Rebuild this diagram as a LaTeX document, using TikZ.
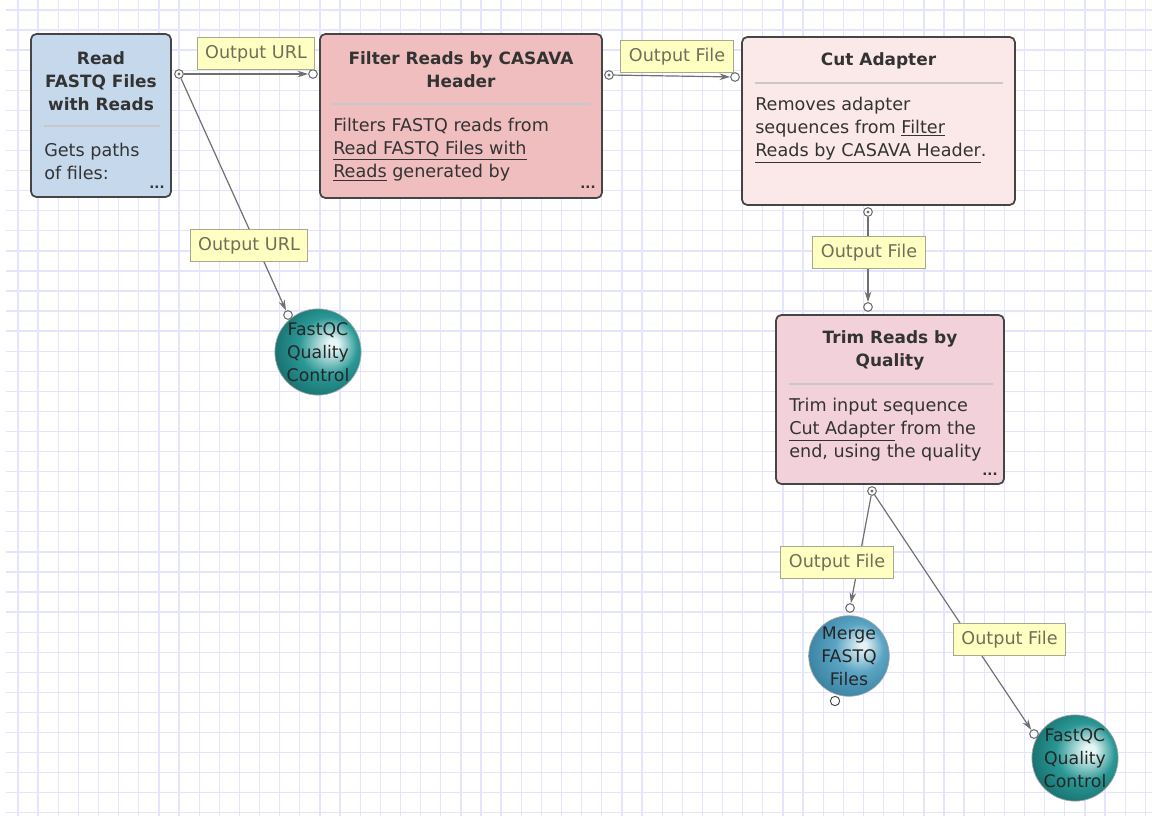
\documentclass[tikz,border=0pt]{standalone}
\usepackage{fontspec}
\setmainfont{DejaVu Sans}
\usetikzlibrary{arrows.meta,shadings}
\definecolor{gridc}{HTML}{E4E4FD}
\definecolor{boxline}{HTML}{454545}
\definecolor{readfill}{HTML}{C6D9EC}
\definecolor{filterfill}{HTML}{F0BEBE}
\definecolor{cutfill}{HTML}{FBE9E9}
\definecolor{trimfill}{HTML}{F2D1DA}
\definecolor{sepc}{HTML}{C8C8C8}
\definecolor{txt}{HTML}{333333}
\definecolor{lblfill}{HTML}{FFFFC2}
\definecolor{lblline}{HTML}{A8A890}
\definecolor{lbltxt}{HTML}{6E6E5A}
\definecolor{edgec}{HTML}{707070}
\definecolor{teal1}{HTML}{2A9896}
\definecolor{tealdk}{HTML}{17706E}
\definecolor{tealhi}{HTML}{E6F6F6}
\definecolor{blue1}{HTML}{5BA4C4}
\definecolor{bluedk}{HTML}{3A83A3}
\definecolor{bluehi}{HTML}{E4F1F6}
\pgfdeclareradialshading{tealball}{\pgfpoint{9bp}{5bp}}{color(0bp)=(tealhi); color(3bp)=(tealhi); color(17bp)=(teal1); color(30bp)=(tealdk); color(50bp)=(tealdk)}
\pgfdeclareradialshading{blueball}{\pgfpoint{9bp}{7bp}}{color(0bp)=(bluehi); color(2bp)=(bluehi); color(15bp)=(blue1); color(30bp)=(bluedk); color(50bp)=(bluedk)}
\tikzset{
  stepbox/.style={draw=boxline, line width=1.3pt, rounded corners=4pt, inner sep=0pt},
  title/.style={font=\fontsize{12.7}{17.25}\selectfont\bfseries, text=txt, align=center, inner sep=0pt},
  body/.style={font=\fontsize{13.2}{17.25}\selectfont, text=txt, align=left, inner sep=0pt, anchor=west},
  dots/.style={font=\fontsize{10}{12}\selectfont\bfseries, text=txt, inner sep=0pt},
  sep/.style={draw=sepc, line width=0.8pt},
  lbl/.style={draw=lblline, fill=lblfill, line width=0.8pt, text=lbltxt, font=\fontsize{13.2}{15}\selectfont, inner xsep=6pt, minimum height=24pt},
  outport/.style={circle, draw=edgec, fill=white, line width=0.8pt, minimum size=6.5pt, inner sep=0pt,
     path picture={\fill[edgec] (path picture bounding box.center) circle (1.3pt);}},
  inport/.style={circle, draw=edgec, line width=0.8pt, minimum size=6.5pt, inner sep=0pt},
  openport/.style={circle, draw=boxline, fill=white, line width=0.7pt, minimum size=7pt, inner sep=0pt},
  conn/.style={draw=edgec, line width=0.9pt, -{Stealth[length=8pt, width=5pt]}},
  ball/.style={circle, minimum size=60pt, inner sep=0pt, draw=gray!70, line width=0.5pt,
     font=\fontsize{13}{17.25}\selectfont, text=black!85, align=center},
}
\begin{document}
\begin{tikzpicture}[x=0.75pt,y=-0.75pt]
\useasboundingbox (0,0) rectangle (1152,816);
\fill[white] (0,0) rectangle (1152,816);
\foreach \i in {0,...,56} \draw[gridc, line width=1pt] ({18+20.13*\i},0) -- ({18+20.13*\i},816);
\foreach \j in {0,...,40} \draw[gridc, line width=1pt] (6,{10+20.07*\j}) -- (1152,{10+20.07*\j});

% boxes
\node[stepbox, fill=readfill, minimum width=105pt, minimum height=122.25pt] (read) at (101,115.5) {};
\node[stepbox, fill=filterfill, minimum width=211.5pt, minimum height=123pt] (filter) at (461,116) {};
\node[stepbox, fill=cutfill, minimum width=204.75pt, minimum height=126pt] (cut) at (878.5,121) {};
\node[stepbox, fill=trimfill, minimum width=171pt, minimum height=126.75pt] (trim) at (890,399.5) {};

% titles
\node[title] (readT) at (101,81) {Read\\FASTQ Files\\with Reads};
\node[title] (filterT) at (461,69.5) {Filter Reads by CASAVA\\Header};
\node[title] (cutT) at (878.5,61) {Cut Adapter};
\node[title] (trimT) at (890,350.5) {Trim Reads by\\Quality};

% separators
\draw[sep] (44,126) -- (160,126);
\draw[sep] (332,104) -- (590,104);
\draw[sep] (755,83) -- (1003,83);
\draw[sep] (789,384) -- (993,384);

% bodies
\node[body] (readB) at (44,161) {Gets paths\\of files:};
\node[body] (filterB) at (333,150) {Filters FASTQ reads from\\\underline{Read FASTQ Files with}\\\underline{Reads} generated by};
\node[body] (cutB) at (755,130) {Removes adapter\\sequences from \underline{Filter}\\\underline{Reads by CASAVA Header}.};
\node[body] (trimB) at (789,430) {Trim input sequence\\\underline{Cut Adapter} from the\\end, using the quality};

% dots
\node[dots] (readD) at (157,187) {...};
\node[dots] (filterD) at (588,187) {...};
\node[dots] (trimD) at (990,474) {...};

% circles
\node[ball, shading=tealball] (fq1) at (318,352) {FastQC\\Quality\\Control};
\node[ball, shading=blueball] (merge) at (849,656) {Merge\\FASTQ\\Files};
\node[ball, shading=tealball] (fq2) at (1075,758) {FastQC\\Quality\\Control};

% ports
\node[outport] (p1out) at (179,74) {};
\node[inport] (p2in) at (313,74) {};
\node[outport] (p2out) at (609,75) {};
\node[inport] (p3in) at (735,77) {};
\node[outport] (p3out) at (868,212) {};
\node[inport] (p4in) at (868,307) {};
\node[outport] (p4out) at (872,491) {};
\node[inport] (fq1in) at (288,315) {};
\node[inport] (mgin) at (850,608) {};
\node[openport] (mgout) at (835,701) {};
\node[inport] (fq2in) at (1034,734) {};

% connectors
\draw[conn] (p1out) -- (p2in);
\draw[conn] (p1out) -- (fq1in);
\draw[conn] (p2out) -- (p3in);
\draw[conn] (p3out) -- (p4in);
\draw[conn] (p4out) -- (mgin);
\draw[conn] (p4out) -- (fq2in);

% labels
\node[lbl] (l1) at (256,53.5) {Output URL};
\node[lbl] (l2) at (249,245.5) {Output URL};
\node[lbl] (l3) at (677,56.5) {Output File};
\node[lbl] (l4) at (869,252.5) {Output File};
\node[lbl] (l5) at (837,562.5) {Output File};
\node[lbl] (l6) at (1009.5,639.5) {Output File};
\end{tikzpicture}
\end{document}
